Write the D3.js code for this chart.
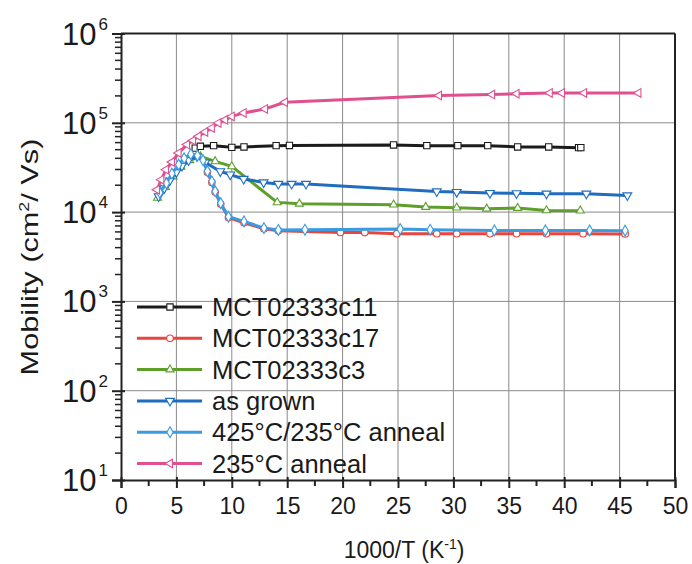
<!DOCTYPE html>
<html>
<head>
<meta charset="utf-8">
<script src="https://cdn.jsdelivr.net/npm/d3@7/dist/d3.min.js"></script>
<style>
  html, body { margin: 0; padding: 0; background: #ffffff; }
  svg { display: block; font-family: "Liberation Sans", Arial, sans-serif; }
</style>
</head>
<body>
<svg id="chart" width="692" height="564"></svg>
<script>
// ---------- data ----------
const seriesNames = ["MCT02333c11", "MCT02333c17", "MCT02333c3", "as grown", "425°C/235°C anneal", "235°C anneal"];

const c11X = [6.7, 7.16, 8.36, 10.0, 11.1, 14.0, 15.2, 24.6, 27.6, 30.4, 33.1, 35.8, 38.6, 41.3, 41.5];
const c11Y = [52000, 54600, 55500, 53100, 53700, 55500, 55800, 56500, 55500, 55500, 55500, 53700, 53700, 52700, 52700];

const c17X = [7.8, 8.2, 8.5, 9.0, 9.7, 11.1, 12.9, 14.2, 19.8, 22.0, 24.9, 28.5, 30.3, 33.3, 35.7, 38.4, 41.7, 45.5];
const c17Y = [28000, 21500, 16800, 12300, 8700, 7600, 6500, 6200, 5920, 5900, 5730, 5730, 5730, 5730, 5720, 5720, 5720, 5700];

const c3X = [3.3, 4.0, 4.7, 5.4, 6.2, 7.16, 8.5, 10.0, 14.1, 16.1, 24.6, 27.5, 30.3, 33.0, 35.8, 38.4, 41.45];
const c3Y = [14400, 19000, 25000, 32000, 38000, 42000, 37000, 32500, 12850, 12400, 12100, 11400, 11200, 10900, 11100, 10450, 10370];

const grownX = [3.4, 3.9, 4.4, 5.0, 5.5, 6.1, 6.86, 7.6, 8.96, 9.86, 11.07, 12.87, 14.2, 15.4, 16.7, 28.5, 30.3, 33.3, 35.7, 38.4, 42.0, 45.7];
const grownY = [15000, 18500, 22500, 28000, 33000, 38000, 42100, 36000, 28600, 26300, 23500, 21500, 20700, 20700, 20700, 17060, 16790, 16370, 16210, 16070, 16070, 15380];

const a425X = [3.5, 4.1, 4.6, 5.2, 5.7, 6.3, 6.9, 7.4, 7.8, 8.2, 8.5, 9.0, 9.7, 11.1, 12.9, 14.2, 16.6, 25.2, 27.9, 33.7, 38.3, 42.3, 45.5];
const a425Y = [16500, 21000, 27000, 34000, 40000, 44500, 43000, 38000, 28600, 22100, 17100, 12600, 8900, 7870, 6620, 6310, 6350, 6450, 6350, 6240, 6240, 6240, 6200];

const a235X = [3.25, 3.64, 4.06, 4.6, 5.2, 5.96, 6.5, 7.0, 7.6, 8.2, 8.8, 9.4, 10.0, 11.07, 13.0, 14.8, 28.7, 33.5, 35.7, 38.7, 39.8, 41.8, 46.7];
const a235Y = [17800, 23100, 29900, 36400, 46000, 57000, 63500, 70600, 79000, 87700, 99800, 108000, 118000, 129000, 143000, 170000, 202000, 207000, 212000, 216000, 216000, 216000, 216000];

const xTickValues = [0, 5, 10, 15, 20, 25, 30, 35, 40, 45, 50];
const yDecades = [1, 2, 3, 4, 5, 6];

// ---------- styling ----------
const colors = ["#1b1b1b", "#e8453f", "#5e9f2c", "#1f6cc0", "#3a9be0", "#e0508e"];
const symbols = [
  {type: d3.symbolSquare, size: 40, rot: 0},
  {type: d3.symbolCircle, size: 34, rot: 0},
  {type: d3.symbolTriangle, size: 28, rot: 0},
  {type: d3.symbolTriangle, size: 34, rot: 180},
  {type: d3.symbolDiamond, size: 34, rot: 0},
  {type: d3.symbolTriangle, size: 32, rot: -90}
];
const seriesX = [c11X, c17X, c3X, grownX, a425X, a235X];
const seriesY = [c11Y, c17Y, c3Y, grownY, a425Y, a235Y];

const L = 121, R = 675, T = 33.5, B = 480;
const svg = d3.select("#chart");
svg.append("rect").attr("width", 692).attr("height", 564).attr("fill", "#ffffff");

const x = d3.scaleLinear().domain([0, 50]).range([L, R]);
const y = d3.scaleLog().domain([10, 1e6]).range([B, T]);

// grid
const grid = svg.append("g").attr("stroke", "#8a8a8a").attr("stroke-width", 1);
xTickValues.filter(v => v > 0 && v < 50).forEach(v => {
  grid.append("line").attr("x1", x(v)).attr("x2", x(v)).attr("y1", T).attr("y2", B);
});
yDecades.filter(d => d > 1 && d < 6).forEach(d => {
  grid.append("line").attr("x1", L).attr("x2", R).attr("y1", y(Math.pow(10, d))).attr("y2", y(Math.pow(10, d)));
});

// frame top/right
svg.append("line").attr("x1", L).attr("x2", R).attr("y1", T).attr("y2", T).attr("stroke", "#222").attr("stroke-width", 2);
svg.append("line").attr("x1", R).attr("x2", R).attr("y1", T).attr("y2", B).attr("stroke", "#222").attr("stroke-width", 2);

// x axis
const xAxisG = svg.append("g").attr("transform", `translate(0,${B})`)
  .call(d3.axisBottom(x).tickValues(xTickValues).tickSize(8).tickPadding(10).tickFormat(d3.format("d")));
xAxisG.select(".domain").attr("stroke", "#222").attr("stroke-width", 2);
xAxisG.selectAll(".tick line").attr("stroke", "#222").attr("stroke-width", 2).attr("y1", -3);
xAxisG.selectAll(".tick text").attr("font-size", 23).attr("font-family", "Liberation Sans, Arial, sans-serif").attr("fill", "#1a1a1a");
const xMinor = d3.range(2.5, 50, 5);
svg.append("g").selectAll("line").data(xMinor).join("line")
  .attr("x1", d => x(d)).attr("x2", d => x(d)).attr("y1", B).attr("y2", B + 6)
  .attr("stroke", "#222").attr("stroke-width", 2);

// y axis
const yMajor = yDecades.map(d => Math.pow(10, d));
const yAxisG = svg.append("g").attr("transform", `translate(${L},0)`)
  .call(d3.axisLeft(y).tickValues(yMajor).tickSize(9).tickFormat(""));
yAxisG.select(".domain").attr("stroke", "#222").attr("stroke-width", 2);
yAxisG.selectAll(".tick line").attr("stroke", "#222").attr("stroke-width", 2).attr("x1", 4);
const yMinor = [];
yDecades.slice(0, -1).forEach(d => { for (let k = 2; k <= 9; k++) yMinor.push(k * Math.pow(10, d)); });
svg.append("g").selectAll("line").data(yMinor).join("line")
  .attr("x1", L - 6).attr("x2", L).attr("y1", d => y(d)).attr("y2", d => y(d))
  .attr("stroke", "#222").attr("stroke-width", 1.5);

// y tick labels 10^n
const yl = svg.append("g");
yDecades.forEach(d => {
  const t = yl.append("text").attr("x", 108).attr("y", y(Math.pow(10, d)) + 11)
    .attr("text-anchor", "end").attr("fill", "#1a1a1a");
  t.append("tspan").attr("font-size", 31).text("10");
  t.append("tspan").attr("font-size", 17).attr("dy", -15).attr("dx", 2).text(String(d));
});

// axis titles
const xt = svg.append("text").attr("x", 404).attr("y", 558).attr("text-anchor", "middle")
  .attr("font-size", 23).attr("fill", "#1a1a1a");
xt.append("tspan").text("1000/T (K");
xt.append("tspan").attr("font-size", 14).attr("dy", -9).text("-1");
xt.append("tspan").attr("dy", 9).text(")");

const yt = svg.append("text").attr("transform", "translate(38,257) rotate(-90) scale(1.28,1)")
  .attr("text-anchor", "middle").attr("font-size", 24).attr("fill", "#1a1a1a");
yt.append("tspan").text("Mobility (cm");
yt.append("tspan").attr("font-size", 14).attr("dy", -9).text("2");
yt.append("tspan").attr("dy", 9).text("/ Vs)");

// series
const line = d3.line().x(d => x(d[0])).y(d => y(d[1]));
const plot = svg.append("g");
seriesNames.forEach((name, i) => {
  const pts = seriesX[i].map((v, j) => [v, seriesY[i][j]]);
  plot.append("path").datum(pts).attr("d", line).attr("fill", "none")
    .attr("stroke", colors[i]).attr("stroke-width", 3).attr("stroke-linejoin", "round");
  const sym = d3.symbol().type(symbols[i].type).size(symbols[i].size);
  plot.append("g").selectAll("path").data(pts).join("path")
    .attr("d", sym)
    .attr("transform", d => `translate(${x(d[0])},${y(d[1])}) rotate(${symbols[i].rot})`)
    .attr("fill", "#ffffff").attr("stroke", colors[i]).attr("stroke-width", 1.1);
});

// legend
const lg = svg.append("g");
seriesNames.forEach((name, i) => {
  const ly = 307 + i * 31.3;
  lg.append("line").attr("x1", 137).attr("x2", 202).attr("y1", ly).attr("y2", ly)
    .attr("stroke", colors[i]).attr("stroke-width", 3);
  const sym = d3.symbol().type(symbols[i].type).size(symbols[i].size);
  lg.append("path").attr("d", sym).attr("transform", `translate(170,${ly}) rotate(${symbols[i].rot})`)
    .attr("fill", "#ffffff").attr("stroke", colors[i]).attr("stroke-width", 1.1);
  lg.append("text").attr("x", 212).attr("y", ly + 9).attr("font-size", 25.5).attr("fill", "#1a1a1a").text(name);
});
</script>
</body>
</html>
